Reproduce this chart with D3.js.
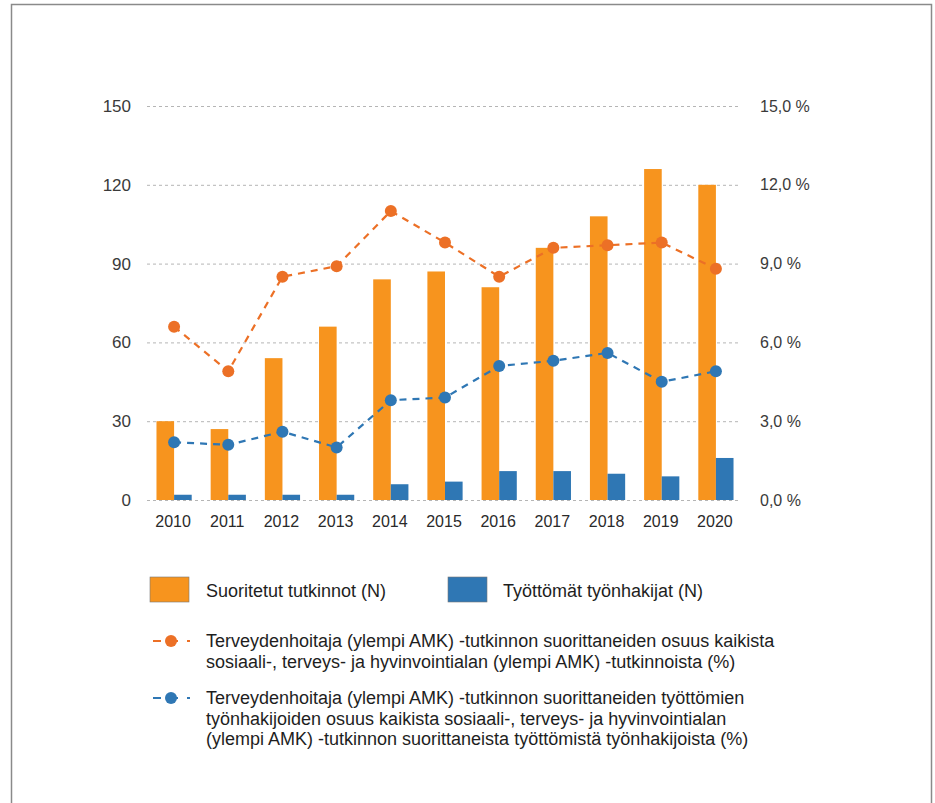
<!DOCTYPE html>
<html>
<head>
<meta charset="utf-8">
<script src="https://cdn.jsdelivr.net/npm/d3@7"></script>
<style>
    body { margin: 0; background: #fff; }
    text { font-family: "Liberation Sans", Arial, sans-serif; }
</style>
</head>
<body>
<script>
// Data
var years = ["2010", "2011", "2012", "2013", "2014", "2015",
             "2016", "2017", "2018", "2019", "2020"];
var tutkinnot = [30, 27, 54, 66, 84, 87, 81, 96, 108, 126, 120];
var tyottomat = [2, 2, 2, 2, 6, 7, 11, 11, 10, 9, 16];
var osuusTutkinnot = [6.6, 4.9, 8.5, 8.9, 11.0, 9.8, 8.5, 9.6, 9.7, 9.8, 8.8];
var osuusTyottomat = [2.2, 2.1, 2.6, 2.0, 3.8, 3.9, 5.1, 5.3, 5.6, 4.5, 4.9];
var leftTicks = [0, 30, 60, 90, 120, 150];
var rightTicks = [0, 3, 6, 9, 12, 15];

var legendBars = ["Suoritetut tutkinnot (N)", "Työttömät työnhakijat (N)"];
var legendOrange = [
    "Terveydenhoitaja (ylempi AMK) -tutkinnon suorittaneiden osuus kaikista",
    "sosiaali-, terveys- ja hyvinvointialan (ylempi AMK) -tutkinnoista (%)"
];
var legendBlue = [
    "Terveydenhoitaja (ylempi AMK) -tutkinnon suorittaneiden työttömien",
    "työnhakijoiden osuus kaikista sosiaali-, terveys- ja hyvinvointialan",
    "(ylempi AMK) -tutkinnon suorittaneista työttömistä työnhakijoista (%)"
];

var orangeBar = "#f7941e",
    orangeLine = "#ec7026",
    blueBar = "#2f77b4",
    blueLine = "#2f77b4";

var W = 935, H = 803;
var plot = {left: 147, right: 743, top: 106, bottom: 500};

var svg = d3.select("body").append("svg")
    .attr("width", W)
    .attr("height", H);

// scanned frame
svg.append("rect")
    .attr("x", 11.5).attr("y", 4.5)
    .attr("width", 920).attr("height", 810)
    .attr("fill", "none")
    .attr("stroke", "#8a8a8a")
    .attr("stroke-width", 1.5);

// scales
var x0 = d3.scaleBand().domain(years)
    .range([plot.left, plot.right])
    .paddingInner(0.35).paddingOuter(0.175);
var x1 = d3.scaleBand().domain(["a", "b"])
    .range([0, x0.bandwidth()]);
var yLeft = d3.scaleLinear().domain([0, 150])
    .range([plot.bottom, plot.top]);
var yRight = d3.scaleLinear().domain([0, 15])
    .range([plot.bottom, plot.top]);

// gridlines
svg.append("g").selectAll("line")
    .data(leftTicks)
    .enter().append("line")
    .attr("x1", plot.left).attr("x2", 740)
    .attr("y1", function(d) { return yLeft(d) + 0.5; })
    .attr("y2", function(d) { return yLeft(d) + 0.5; })
    .attr("stroke", "#b5b5b5")
    .attr("stroke-width", 1)
    .attr("stroke-dasharray", "3,3");

// left axis
var leftAxis = svg.append("g")
    .attr("transform", "translate(" + 131 + ",0)")
    .call(d3.axisLeft(yLeft).tickValues(leftTicks).tickSize(0)
        .tickPadding(0));
leftAxis.select(".domain").remove();
leftAxis.selectAll("text")
    .attr("font-size", "17px")
    .attr("fill", "#3a3a3a")
    .attr("font-family", "Liberation Sans, Arial, sans-serif");

// right axis
var rightAxis = svg.append("g")
    .attr("transform", "translate(" + 760 + ",0)")
    .call(d3.axisRight(yRight).tickValues(rightTicks).tickSize(0)
        .tickPadding(0)
        .tickFormat(function(d) {
            return d3.format(".1f")(d).replace(".", ",") + " %";
        }));
rightAxis.select(".domain").remove();
rightAxis.selectAll("text")
    .attr("font-size", "16px")
    .attr("fill", "#3a3a3a")
    .attr("font-family", "Liberation Sans, Arial, sans-serif");

// x axis labels
var xAxis = svg.append("g")
    .attr("transform", "translate(-1," + 516 + ")")
    .call(d3.axisBottom(x0).tickSize(0).tickPadding(0));
xAxis.select(".domain").remove();
xAxis.selectAll("text")
    .attr("font-size", "16px")
    .attr("fill", "#2a2a2a")
    .attr("font-family", "Liberation Sans, Arial, sans-serif");

// bars
var rows = years.map(function(y, i) {
    return {year: y, a: tutkinnot[i], b: tyottomat[i],
            p1: osuusTutkinnot[i], p2: osuusTyottomat[i]};
});

svg.append("g").selectAll("rect")
    .data(rows)
    .enter().append("rect")
    .attr("x", function(d) { return x0(d.year) + x1("a"); })
    .attr("y", function(d) { return yLeft(d.a); })
    .attr("width", x1.bandwidth())
    .attr("height", function(d) { return yLeft(0) - yLeft(d.a); })
    .attr("fill", orangeBar);

svg.append("g").selectAll("rect")
    .data(rows)
    .enter().append("rect")
    .attr("x", function(d) { return x0(d.year) + x1("b"); })
    .attr("y", function(d) { return yLeft(d.b); })
    .attr("width", x1.bandwidth())
    .attr("height", function(d) { return yLeft(0) - yLeft(d.b); })
    .attr("fill", blueBar);

// percentage lines
function cx(d) { return x0(d.year) + x0.bandwidth() / 2; }

function drawLine(key, color) {
    var line = d3.line()
        .x(cx)
        .y(function(d) { return yRight(d[key]); });
    svg.append("path")
        .datum(rows)
        .attr("d", line)
        .attr("fill", "none")
        .attr("stroke", color)
        .attr("stroke-width", 2.2)
        .attr("stroke-dasharray", "7,6");
    svg.append("g").selectAll("circle")
        .data(rows)
        .enter().append("circle")
        .attr("cx", cx)
        .attr("cy", function(d) { return yRight(d[key]); })
        .attr("r", 6)
        .attr("fill", color);
}
drawLine("p1", orangeLine);
drawLine("p2", blueLine);

// legend: bars
var barLegend = [
    {x: 150, tx: 206, color: orangeBar, label: legendBars[0]},
    {x: 448, tx: 503, color: blueBar, label: legendBars[1]}
];
barLegend.forEach(function(l) {
    svg.append("rect")
        .attr("x", l.x).attr("y", 577)
        .attr("width", 39).attr("height", 25)
        .attr("fill", l.color)
        .attr("stroke", "#777")
        .attr("stroke-width", 0.6);
    svg.append("text")
        .attr("x", l.tx).attr("y", 597)
        .attr("font-size", "18px")
        .attr("fill", "#1e1e1e")
        .text(l.label);
});

// legend: lines
function lineLegend(y, color, lines) {
    svg.append("line")
        .attr("x1", 153).attr("x2", 190)
        .attr("y1", y).attr("y2", y)
        .attr("stroke", color)
        .attr("stroke-width", 2.2)
        .attr("stroke-dasharray", "8,9");
    svg.append("circle")
        .attr("cx", 171).attr("cy", y)
        .attr("r", 6)
        .attr("fill", color);
    var t = svg.append("text")
        .attr("x", 206).attr("y", y + 6)
        .attr("font-size", "18px")
        .attr("fill", "#1e1e1e");
    t.selectAll("tspan")
        .data(lines)
        .enter().append("tspan")
        .attr("x", 206)
        .attr("dy", function(d, i) { return i === 0 ? 0 : 20.5; })
        .text(function(d) { return d; });
}
lineLegend(641, orangeLine, legendOrange);
lineLegend(698, blueLine, legendBlue);
</script>
</body>
</html>
